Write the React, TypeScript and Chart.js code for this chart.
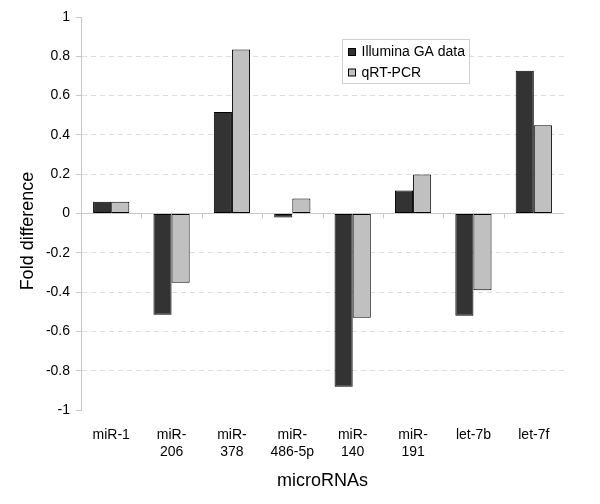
import React, { useEffect, useRef } from "react";
import { Chart, registerables } from "chart.js";

Chart.register(...registerables);

const categories: string[][] = [
  ["miR-1"],
  ["miR-", "206"],
  ["miR-", "378"],
  ["miR-", "486-5p"],
  ["miR-", "140"],
  ["miR-", "191"],
  ["let-7b"],
  ["let-7f"],
];
const illuminaValues = [0.06, -0.515, 0.517, -0.02, -0.882, 0.117, -0.52, 0.726];
const qrtpcrValues = [0.06, -0.352, 0.835, 0.076, -0.531, 0.198, -0.39, 0.449];
const seriesNames = ["Illumina GA data", "qRT-PCR"];
const seriesColors = ["#333333", "#c0c0c0"];
const yTitle = "Fold difference";
const xTitle = "microRNAs";

const FONT = "'Liberation Sans', Arial, sans-serif";

const zeroTicksPlugin = {
  id: "zeroTicks",
  afterDatasetsDraw(chart: any) {
    const { ctx, scales } = chart;
    const x = scales.x;
    const y = scales.y;
    const y0 = y.getPixelForValue(0);
    ctx.save();
    ctx.strokeStyle = "#c8c8c8";
    ctx.lineWidth = 1;
    const n = categories.length;
    for (let i = 1; i < n; i++) {
      const px = (x.getPixelForValue(i - 1) + x.getPixelForValue(i)) / 2;
      ctx.beginPath();
      ctx.moveTo(Math.round(px) + 0.5, y0);
      ctx.lineTo(Math.round(px) + 0.5, y0 + 5);
      ctx.stroke();
    }
    ctx.restore();
  },
};

const yTitlePlugin = {
  id: "yTitle",
  afterDraw(chart: any) {
    const { ctx } = chart;
    ctx.save();
    ctx.translate(28, 231);
    ctx.rotate(-Math.PI / 2);
    ctx.font = `18px ${FONT}`;
    ctx.fillStyle = "#000";
    ctx.textAlign = "center";
    ctx.textBaseline = "middle";
    ctx.fillText(yTitle, 0, 0);
    ctx.restore();
  },
};

const legendBoxPlugin = {
  id: "legendBox",
  afterDraw(chart: any) {
    const { ctx } = chart;
    const bx = 342.5, by = 39.5, bw = 127, bh = 44;
    ctx.save();
    ctx.fillStyle = "#ffffff";
    ctx.fillRect(bx, by, bw, bh);
    ctx.strokeStyle = "#d0d0d0";
    ctx.lineWidth = 1;
    ctx.strokeRect(bx, by, bw, bh);
    ctx.font = `14px ${FONT}`;
    ctx.textBaseline = "middle";
    seriesNames.forEach((name, i) => {
      const cy = by + 13 + i * 20.5;
      ctx.fillStyle = seriesColors[i];
      ctx.fillRect(bx + 6, cy - 4, 7, 7);
      ctx.strokeStyle = "#000";
      ctx.strokeRect(bx + 6, cy - 4, 7, 7);
      ctx.fillStyle = "#000";
      ctx.fillText(name, bx + 19, cy);
    });
    ctx.restore();
  },
};

export default function App() {
  const canvasRef = useRef<HTMLCanvasElement | null>(null);

  useEffect(() => {
    if (!canvasRef.current) return;
    const chart = new Chart(canvasRef.current, {
      type: "bar",
      data: {
        labels: categories,
        datasets: [
          {
            label: seriesNames[0],
            data: illuminaValues,
            backgroundColor: seriesColors[0],
            borderColor: "#000",
            borderWidth: 1,
            borderSkipped: false,
            categoryPercentage: 0.6,
            barPercentage: 1,
          },
          {
            label: seriesNames[1],
            data: qrtpcrValues,
            backgroundColor: seriesColors[1],
            borderColor: "#000",
            borderWidth: 1,
            borderSkipped: false,
            categoryPercentage: 0.6,
            barPercentage: 1,
          },
        ],
      },
      options: {
        animation: false,
        responsive: false,
        maintainAspectRatio: false,
        layout: { padding: { top: 17, right: 36, left: 0, bottom: 0 } },
        plugins: {
          legend: { display: false },
          tooltip: { enabled: false },
        },
        scales: {
          x: {
            offset: true,
            grid: { display: false, drawTicks: false },
            border: { display: false },
            ticks: {
              color: "#000",
              font: { family: FONT, size: 14 },
              padding: 17,
              maxRotation: 0,
              autoSkip: false,
            },
            title: {
              display: true,
              text: xTitle,
              color: "#000",
              font: { family: FONT, size: 18 },
              padding: { top: 0, bottom: 12 },
            },
            afterFit: (scale: any) => {
              scale.height = 94;
            },
          },
          y: {
            min: -1,
            max: 1,
            ticks: {
              stepSize: 0.2,
              color: "#000",
              font: { family: FONT, size: 14 },
              padding: 6,
              callback: (v: any) => String(Math.round(Number(v) * 10) / 10),
            },
            grid: {
              color: (ctx: any) => {
                const v = ctx.tick ? Math.round(ctx.tick.value * 10) / 10 : 0;
                if (v === 1 || v === -1) return "rgba(0,0,0,0)";
                if (v === 0) return "#c8c8c8";
                return "#dedede";
              },
              tickColor: "#c8c8c8",
              tickLength: 5,
              tickBorderDash: [],
            },
            border: {
              display: true,
              color: "#c8c8c8",
              dash: (ctx: any) => {
                const v = ctx.tick ? Math.round(ctx.tick.value * 10) / 10 : 0;
                return v === 0 ? [] : [5, 4];
              },
            },
            title: { display: false },
            afterFit: (scale: any) => {
              scale.width = 81;
            },
          },
        },
      },
      plugins: [zeroTicksPlugin, yTitlePlugin, legendBoxPlugin],
    });
    return () => chart.destroy();
  }, []);

  return (
    <div style={{ position: "fixed", left: 0, top: 0, width: 600, height: 504, background: "#fff" }}>
      <canvas ref={canvasRef} width={600} height={504} style={{ width: 600, height: 504, display: "block" }} />
    </div>
  );
}
